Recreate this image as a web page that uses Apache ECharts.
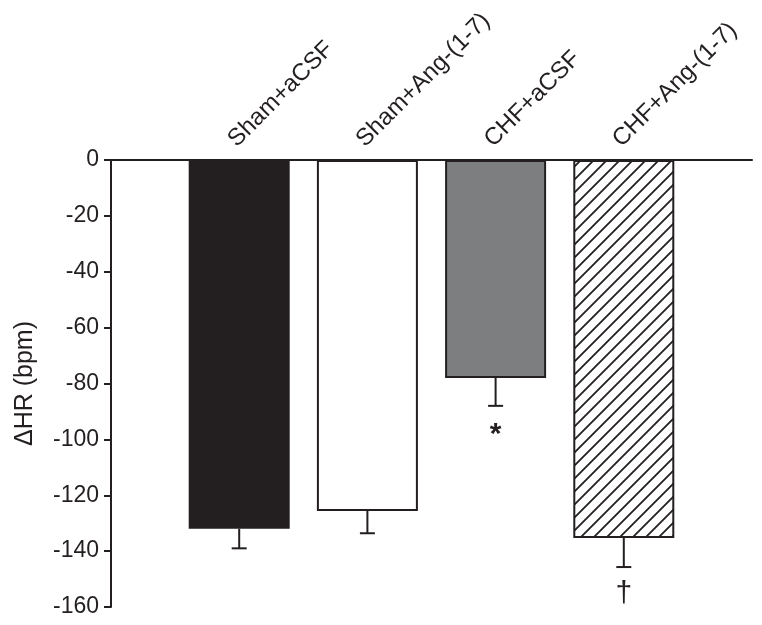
<!DOCTYPE html>
<html>
<head>
<meta charset="utf-8">
<script src="https://cdn.jsdelivr.net/npm/echarts@6/dist/echarts.min.js"></script>
<style>
html,body{margin:0;padding:0;background:#fff;}
#chart{width:762px;height:625px;}
</style>
</head>
<body>
<div id="chart"></div>
<script>
// ---- data ----
var categories = ['Sham+aCSF', 'Sham+Ang-(1-7)', 'CHF+aCSF', 'CHF+Ang-(1-7)'];
var means = [-132, -125.6, -78, -135.3];
var errors = [7, 8, 10, 10.4];
var marks = ['', '', '*', '\u2020'];
var yTicks = [0, -20, -40, -60, -80, -100, -120, -140, -160];

var INK = '#231f20';
var FONT = '"Liberation Sans", Arial, Helvetica, sans-serif';

// hatch pattern for the last bar
var hatch = document.createElement('canvas');
hatch.width = 13; hatch.height = 13;
(function () {
  var c = hatch.getContext('2d');
  c.fillStyle = '#fff';
  c.fillRect(0, 0, 13, 13);
  c.strokeStyle = INK;
  c.lineWidth = 1.8;
  c.beginPath();
  c.moveTo(-1, 14); c.lineTo(14, -1);
  c.moveTo(-2, 2); c.lineTo(2, -2);
  c.moveTo(11, 15); c.lineTo(15, 11);
  c.stroke();
})();

var barStyles = [
  { color: INK, borderColor: INK, borderWidth: 2 },
  { color: '#ffffff', borderColor: INK, borderWidth: 2 },
  { color: '#7d7e80', borderColor: INK, borderWidth: 2 },
  { color: { image: hatch, repeat: 'repeat' }, borderColor: INK, borderWidth: 2 }
];

var barData = means.map(function (v, i) {
  return { value: [i, v], itemStyle: barStyles[i] };
});
var errData = means.map(function (v, i) { return [i, v, errors[i]]; });

var chart = echarts.init(document.getElementById('chart'));
chart.setOption({
  animation: false,
  backgroundColor: '#fff',
  grid: { left: 111, right: 10, top: 160, bottom: 18, containLabel: false },
  xAxis: {
    type: 'value',
    position: 'top',
    min: -1,
    max: 4,
    interval: 1,
    splitLine: { show: false },
    axisTick: { show: false },
    axisLine: { show: true, onZero: false, lineStyle: { color: INK, width: 2 } },
    axisLabel: {
      rotate: -45,
      margin: 0,
      align: 'left',
      verticalAlign: 'bottom',
      padding: [0, 0, 5, 7],
      fontSize: 24,
      fontFamily: FONT,
      color: INK,
      showMinLabel: true,
      showMaxLabel: true,
      formatter: function (v) {
        var i = Math.round(v);
        return (Math.abs(v - i) < 1e-6 && categories[i]) ? categories[i] : '';
      }
    }
  },
  yAxis: {
    type: 'value',
    min: -160,
    max: 0,
    interval: 20,
    name: '\u0394HR (bpm)',
    nameLocation: 'middle',
    nameGap: 73,
    nameTextStyle: { fontSize: 25, fontFamily: FONT, color: INK },
    splitLine: { show: false },
    axisLine: { show: true, onZero: false, lineStyle: { color: INK, width: 2 } },
    axisTick: { show: true, inside: false, length: 7, lineStyle: { color: INK, width: 2 } },
    axisLabel: {
      margin: 12,
      fontSize: 23,
      fontFamily: FONT,
      color: INK,
      formatter: function (v) { return yTicks.indexOf(v) >= 0 ? String(v) : ''; }
    }
  },
  series: [
    {
      type: 'bar',
      barWidth: 101,
      data: barData
    },
    {
      type: 'custom',
      data: errData,
      z: 5,
      renderItem: function (params, api) {
        var x = api.value(0), v = api.value(1), e = api.value(2);
        var p0 = api.coord([x, v]);
        var p1 = api.coord([x, v - e]);
        var children = [
          { type: 'line', shape: { x1: p0[0], y1: p0[1], x2: p1[0], y2: p1[1] },
            style: { stroke: INK, lineWidth: 2 } },
          { type: 'line', shape: { x1: p1[0] - 7.5, y1: p1[1], x2: p1[0] + 7.5, y2: p1[1] },
            style: { stroke: INK, lineWidth: 2 } }
        ];
        var m = marks[params.dataIndex];
        if (m) {
          children.push({
            type: 'text',
            style: {
              text: m, x: p1[0], y: p1[1] + (m === '*' ? 29 : 27),
              align: 'center', verticalAlign: 'middle',
              fontSize: 30, fontWeight: m === '*' ? 'bold' : 'normal',
              fontFamily: FONT, fill: INK
            }
          });
        }
        return { type: 'group', children: children };
      }
    }
  ]
});
</script>
</body>
</html>
